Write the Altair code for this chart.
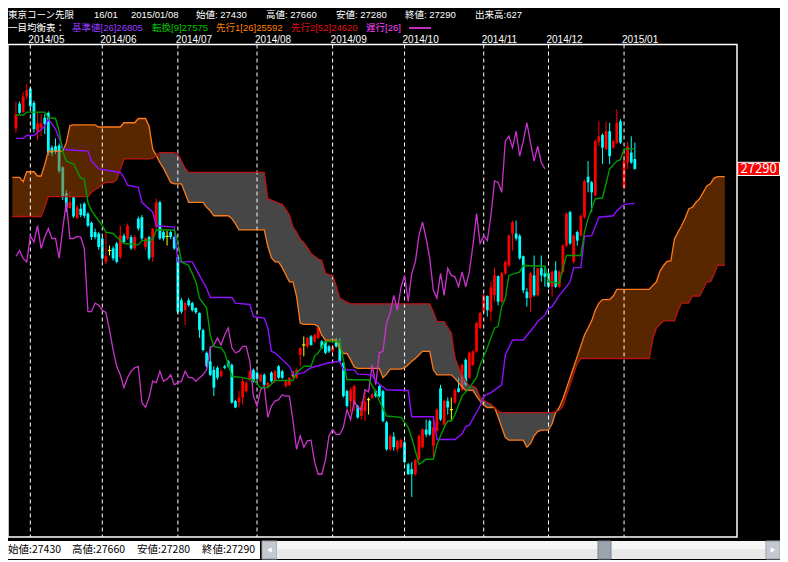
import altair as alt
import numpy as np
import pandas as pd

FONT = "Noto Sans CJK JP, Noto Sans, sans-serif"
FONT_HDR = "Liberation Sans, Noto Sans CJK JP, sans-serif"
RED, CYAN, YELLOW = "#ff0000", "#00ffff", "#ffff00"

# ---------------- daily candles (index 0 = 2014/04/24 ... 172 = 2015/01/08) -------------
OPEN = [27860, 28210, 28090, 28310, 28420, 28220, 27820, 27870, 28010, 28080,
        27590, 27610, 27620, 27310, 26950, 26740, 26890, 26600, 26730, 26800,
        26660, 26530, 26400, 26380, 26310, 25980, 26140, 26170, 26240, 26050,
        26350, 26310, 26330, 26170, 26590, 26610, 26190, 26330, 26050, 26470,
        26820, 26400, 26340, 26400, 26330, 26050, 25440, 25300, 25440, 25400,
        25330, 25260, 25020, 24700, 24580, 24460, 24490, 24370, 24510, 24580,
        24530, 24020, 24000, 24070, 24160, 24320, 24460, 24420, 24300, 24390,
        24230, 24420, 24300, 24510, 24440, 24230, 24250, 24390, 24350, 24670,
        24810, 24790, 24930, 24860, 24910, 24860, 24860, 24790, 24720, 24880,
        24840, 24560, 24160, 24020, 23970, 23950, 23810, 23880, 24040, 24070,
        24160, 24230, 24160, 23720, 23340, 23520, 23340, 23370, 23440, 23130,
        23060, 22990, 23200, 23370, 23620, 23740, 23390, 23600, 24200, 23690,
        24020, 23900, 24000, 24200, 24180, 24600, 24350, 24530, 24720, 25050,
        25280, 25500, 25280, 25510, 25780, 25420, 25820, 25930, 26380, 26380,
        26350, 26060, 25560, 25470, 25790, 25510, 25890, 25820, 25820, 25630,
        25860, 25630, 25840, 26210, 26680, 25980, 26400, 26350, 26610, 27180,
        27100, 26920, 27670, 27770, 27570, 27820, 27590, 27660, 27960, 27030,
        27380, 27520, 27430]
HIGH = [28240, 28240, 28370, 28490, 28440, 28250, 28080, 28060, 28060, 28100,
        27620, 27720, 27650, 27330, 26990, 26970, 26910, 26780, 26800, 26820,
        26680, 26550, 26450, 26400, 26330, 26400, 26210, 26200, 26260, 26490,
        26380, 26520, 26360, 26360, 26620, 26640, 26330, 26350, 26450, 26870,
        26840, 26420, 26420, 26420, 26350, 26070, 25470, 25420, 25470, 25420,
        25340, 25270, 25040, 24720, 24790, 24510, 24510, 24480, 24530, 24600,
        24550, 24040, 24160, 24350, 24300, 24460, 24480, 24440, 24410, 24410,
        24290, 24440, 24460, 24530, 24460, 24310, 24360, 24440, 24480, 24770,
        24930, 24920, 24950, 24970, 25070, 24880, 24880, 24810, 24810, 24910,
        24910, 24580, 24180, 24210, 24250, 23970, 24020, 24160, 24070, 24130,
        24180, 24250, 24180, 23740, 23550, 23580, 23480, 23490, 23460, 23150,
        23160, 23210, 23550, 23640, 23760, 23760, 23760, 23920, 24250, 24040,
        24070, 24070, 24200, 24350, 24550, 24620, 24720, 24740, 25140, 25280,
        25530, 25510, 25700, 25900, 25790, 25840, 26000, 26370, 26560, 26560,
        26370, 26070, 25610, 25840, 26070, 25900, 26070, 25930, 25840, 25860,
        25990, 25860, 26230, 26680, 26700, 26370, 26420, 26650, 27140, 27400,
        27120, 27700, 27960, 27790, 27960, 27940, 27700, 28130, 27990, 27520,
        27670, 27750, 27660]
LOW = [27800, 28060, 28080, 28270, 28150, 27800, 27700, 27750, 27780, 27480,
       27470, 27500, 27230, 26850, 26680, 26730, 26600, 26580, 26610, 26600,
       26470, 26290, 26300, 26150, 25990, 25950, 26070, 26000, 25960, 26020,
       26240, 26290, 26150, 26140, 26420, 26280, 26150, 26000, 25980, 26450,
       26290, 26280, 26210, 26300, 26150, 25250, 25250, 25090, 25350, 25280,
       25250, 24910, 24720, 24490, 24370, 24090, 24320, 24350, 24470, 24490,
       23980, 23920, 23930, 23970, 24140, 24300, 24280, 24310, 24280, 24230,
       24200, 24280, 24280, 24330, 24330, 24210, 24230, 24350, 24330, 24510,
       24650, 24770, 24800, 24840, 24890, 24750, 24680, 24700, 24700, 24770,
       24560, 24070, 23930, 23860, 23880, 23770, 23760, 23740, 23830, 24050,
       24070, 24070, 23720, 23320, 23320, 23320, 23300, 23350, 23140, 22980,
       22670, 22970, 23180, 23350, 23510, 23530, 23230, 23580, 23740, 23670,
       23830, 23740, 23980, 24140, 24160, 24230, 24330, 24510, 24700, 25030,
       25260, 25210, 25140, 25420, 25370, 25400, 25800, 25910, 26140, 26280,
       26010, 25540, 25350, 25280, 25490, 25490, 25700, 25630, 25610, 25490,
       25610, 25610, 25820, 26190, 26220, 25960, 26210, 26330, 26590, 26960,
       26680, 26900, 27610, 27360, 27550, 27360, 27570, 27640, 27640, 27000,
       27290, 27360, 27280]
CLOSE = [28060, 28080, 28310, 28400, 28170, 27850, 27930, 27930, 27920, 27520,
         27510, 27540, 27260, 26890, 26750, 26820, 26620, 26750, 26640, 26630,
         26490, 26330, 26330, 26190, 26030, 26060, 26140, 26030, 25980, 26350,
         26260, 26490, 26170, 26330, 26450, 26310, 26310, 26030, 26450, 26820,
         26310, 26310, 26340, 26330, 26170, 25280, 25280, 25400, 25370, 25300,
         25270, 25020, 24740, 24510, 24390, 24210, 24350, 24440, 24490, 24510,
         24000, 23930, 24070, 24300, 24280, 24440, 24300, 24330, 24390, 24250,
         24280, 24300, 24440, 24350, 24350, 24300, 24350, 24390, 24460, 24770,
         24810, 24910, 24810, 24950, 25050, 24770, 24700, 24720, 24790, 24790,
         24580, 24090, 23950, 24180, 24230, 23790, 23950, 24020, 24040, 24110,
         24090, 24090, 23740, 23340, 23530, 23370, 23460, 23470, 23160, 22990,
         22990, 23190, 23530, 23620, 23550, 23550, 23650, 23900, 23760, 24020,
         23930, 23900, 24180, 24150, 24530, 24250, 24700, 24720, 25120, 25260,
         25510, 25300, 25620, 25790, 25420, 25820, 25980, 26350, 26540, 26310,
         26030, 25580, 25470, 25820, 25510, 25890, 25790, 25770, 25630, 25840,
         25630, 25840, 26210, 26660, 26240, 26350, 26280, 26630, 27120, 27100,
         26960, 27680, 27750, 27590, 27820, 27470, 27680, 27940, 27660, 27400,
         27610, 27380, 27290]

MONTH_IDX = [4, 24, 45, 67, 88, 108, 130, 148, 169]
MONTH_LABELS = ["2014/05", "2014/06", "2014/07", "2014/08", "2014/09",
                "2014/10", "2014/11", "2014/12", "2015/01"]
Y_TICKS = [22500, 23000, 23500, 24000, 24500, 25000, 25500, 26000,
           26500, 27000, 27500, 28000, 28500, 29000]

# 転換線 (vertices)
TENKAN = [(0, 28050), (2, 28050), (3, 28090), (8, 28090), (9, 28010), (11, 28000),
          (12, 27820), (13, 27530), (14, 27400), (16, 27360), (18, 27160), (19, 27150),
          (20, 26820), (21, 26700), (22, 26630), (24, 26490), (25, 26400), (27, 26380),
          (28, 26330), (30, 26240), (34, 26220), (35, 26280), (38, 26290), (39, 26430),
          (44, 26430), (45, 26260), (46, 25980), (48, 25930), (50, 25700), (51, 25470),
          (53, 25330), (54, 24950), (55, 24790), (57, 24770), (58, 24700), (60, 24370),
          (63, 24350), (66, 24320), (68, 24210), (70, 24210), (71, 24260), (72, 24310),
          (77, 24310), (78, 24420), (80, 24510), (82, 24510), (83, 24650), (84, 24700),
          (86, 24860), (90, 24860), (91, 24600), (92, 24320), (98, 24320), (100, 24150),
          (101, 24020), (103, 23810), (107, 23790), (109, 23650), (110, 23500), (111, 23320),
          (112, 23130), (114, 23200), (116, 23200), (117, 23410), (119, 23650), (120, 23740),
          (121, 23740), (122, 23830), (124, 24090), (126, 24210), (128, 24350), (129, 24530),
          (131, 24770), (133, 25050), (134, 25070), (135, 25350), (136, 25470), (137, 25790),
          (140, 25840), (141, 25930), (147, 25920), (148, 25700), (151, 25680), (152, 25890),
          (153, 26070), (157, 26070), (158, 26400), (159, 26590), (161, 26870), (163, 26880),
          (165, 27290), (167, 27400), (168, 27420), (169, 27570), (172, 27575)]
# 基準線
KIJUN = [(0, 27720), (2, 27720), (3, 27760), (5, 27760), (8, 27890), (9, 27990), (11, 27850),
         (13, 27590), (14, 27560), (20, 27540), (21, 27400), (23, 27290), (29, 27240),
         (30, 27170), (31, 27060), (34, 27030), (35, 26820), (38, 26680), (39, 26490),
         (44, 26470), (45, 25980), (49, 25980), (51, 25790), (53, 25610), (54, 25480),
         (60, 25480), (61, 25400), (65, 25380), (66, 25210), (69, 25190), (70, 25050),
         (71, 24720), (72, 24700), (76, 24510), (77, 24390), (80, 24420), (82, 24490),
         (87, 24560), (90, 24580), (91, 24460), (94, 24460), (95, 24400), (99, 24390),
         (100, 24300), (103, 24180), (109, 24170), (110, 23800), (116, 23800), (117, 23480),
         (122, 23480), (124, 23560), (125, 23660), (126, 23680), (129, 23950), (130, 24090),
         (132, 24140), (135, 24250), (136, 24670), (138, 24880), (141, 24880), (144, 25070),
         (145, 25140), (147, 25230), (148, 25330), (149, 25350), (151, 25510), (153, 25630),
         (154, 25700), (155, 25900), (157, 25900), (158, 26340), (160, 26350), (162, 26610),
         (166, 26630), (167, 26700), (169, 26790), (172, 26805)]
# 先行スパン1 / 2 : (first bar index, level)
SPAN_A = [(-1, 27170), (2, 27110), (3, 27250), (6, 27190), (8, 27350), (9, 27540), (14, 27660),
          (15, 27900), (16, 27910), (23, 27880), (30, 27940), (34, 28000), (37, 27890),
          (38, 27570), (39, 27480), (40, 27380), (41, 27300), (42, 27200), (43, 27100),
          (44, 27080), (47, 26950), (48, 26820), (53, 26750), (54, 26700), (55, 26630),
          (60, 26590), (61, 26520), (62, 26430), (70, 26200), (71, 26040), (72, 25980),
          (74, 25900), (75, 25800), (76, 25700), (78, 25490), (79, 25120), (80, 25100),
          (84, 25070), (85, 24950), (86, 24880), (90, 24760), (91, 24690), (93, 24600),
          (94, 24500), (95, 24480), (102, 24350), (103, 24400), (104, 24470), (108, 24490),
          (109, 24530), (110, 24580), (111, 24620), (112, 24670), (113, 24720), (116, 24460),
          (117, 24390), (122, 24340), (123, 24280), (124, 24220), (125, 24170), (128, 24090),
          (129, 24020), (130, 23960), (131, 23930), (134, 23800), (135, 23650), (136, 23510),
          (137, 23470), (142, 23370), (143, 23420), (144, 23530), (145, 23590), (146, 23610),
          (149, 23700), (150, 23860), (151, 23930), (152, 24050), (153, 24200), (154, 24350),
          (155, 24500), (156, 24650), (157, 24800), (158, 24950), (159, 25050), (160, 25150),
          (161, 25300), (162, 25400), (163, 25450), (166, 25500), (167, 25592), (177, 25650),
          (178, 25700), (179, 25850), (180, 25930), (181, 25990), (183, 26300), (184, 26400),
          (185, 26490), (186, 26600), (187, 26730), (188, 26750), (189, 26820), (190, 26870),
          (191, 26960), (192, 27050), (193, 27080), (194, 27160), (195, 27180)]
SPAN_B = [(-1, 26620), (8, 26750), (9, 26900), (21, 26960), (22, 27000), (23, 27030),
          (24, 27080), (25, 27100), (28, 27140), (29, 27280), (30, 27430), (38, 27440),
          (39, 27480), (40, 27520), (45, 27500), (46, 27400), (47, 27300), (48, 27240),
          (70, 26870), (71, 26850), (72, 26830), (73, 26810), (74, 26790), (75, 26720),
          (76, 26640), (77, 26470), (78, 26400), (79, 26300), (80, 26250), (81, 26180),
          (82, 26100), (83, 26060), (84, 26020), (85, 26000), (86, 25820), (87, 25800),
          (88, 25790), (89, 25650), (90, 25470), (91, 25440), (92, 25410), (93, 25390),
          (116, 25280), (117, 25140), (120, 25060), (121, 24980), (122, 24630), (123, 24500),
          (124, 24400), (125, 24300), (126, 24230), (128, 24200), (129, 24070), (130, 24030),
          (131, 24000), (132, 23975), (133, 23930), (134, 23880), (135, 23857), (150, 23870),
          (151, 23890), (152, 23950), (153, 24100), (154, 24250), (155, 24400), (156, 24550),
          (157, 24620), (177, 24900), (178, 25050), (179, 25100), (180, 25150), (184, 25300),
          (185, 25400), (188, 25500), (191, 25600), (192, 25700), (194, 25800), (195, 25933)]
CLOUD_FIRST, CLOUD_LAST = -1, 197
CHIKOU_SHIFT = 25

# header texts: (text, x in px)
HEADER_1 = [("東京コーン先限", 0), ("16/01", 86), ("2015/01/08", 123), ("始値: 27430", 188),
            ("高値: 27660", 258), ("安値: 27280", 328), ("終値: 27290", 397), ("出来高:627", 467)]
HEADER_2 = [("一目均衡表：", "#ffffff", 0), ("基準値[26]26805", "#9a3cff", 64),
            ("転換[9]27575", "#00c800", 144), ("先行1[26]25592", "#ff8000", 208),
            ("先行2[52]24620", "#e01010", 283), ("遅行[26]", "#ff40ff", 358)]
STATUS = [("始値:27430", 0), ("高値:27660", 64), ("安値:27280", 129), ("終値:27290", 194)]

# ---------------- tables ----------------
PW, PH = 729, 492.5
XS = alt.Scale(domain=[-0.82, 199.0], nice=False, zero=False)
YS = alt.Scale(domain=[22106, 29042], nice=False, zero=False)

df = pd.DataFrame({"i": range(len(CLOSE)), "o": OPEN, "h": HIGH, "l": LOW, "c": CLOSE})
df["kind"] = np.where(df.c > df.o, "up", np.where(df.c < df.o, "down", "doji"))
df["xl"] = df.i - 0.45
df["xr"] = df.i + 0.45
KIND = alt.Scale(domain=["up", "down", "doji"], range=[RED, CYAN, YELLOW])


def expand(steps, lo, hi):
    vals, k = [], 0
    for i in range(lo, hi + 1):
        while k + 1 < len(steps) and steps[k + 1][0] <= i:
            k += 1
        vals.append(steps[k][1])
    return vals


cl = pd.DataFrame({"i": range(CLOUD_FIRST, CLOUD_LAST + 1),
                   "A": expand(SPAN_A, CLOUD_FIRST, CLOUD_LAST),
                   "B": expand(SPAN_B, CLOUD_FIRST, CLOUD_LAST)})
cl["ck"] = np.where(cl.A >= cl.B, "bull", "bear")
cl["seg"] = (cl.ck != cl.ck.shift()).cumsum()
parts = []
for s, g in cl.groupby("seg"):
    parts.append(g)
    nxt = cl[cl.seg == s + 1].head(1).copy()
    if len(nxt):
        nxt["seg"] = s
        nxt["ck"] = g.ck.iloc[0]
        parts.append(nxt)
cloud = pd.concat(parts, ignore_index=True)

tk = pd.DataFrame(TENKAN, columns=["i", "v"])
kj = pd.DataFrame(KIJUN, columns=["i", "v"])
ch = pd.DataFrame({"i": range(len(CLOSE) - CHIKOU_SHIFT), "v": CLOSE[CHIKOU_SHIFT:]})
months = pd.DataFrame({"i": MONTH_IDX, "lab": MONTH_LABELS})

X = alt.X("i:Q", scale=XS, axis=None)
YAX = alt.Axis(orient="right", values=Y_TICKS, grid=True, gridColor="#e4e4e4", gridWidth=1,
               domain=False, ticks=False, labelColor="white", labelFont=FONT,
               labelFontSize=11, labelPadding=10, title=None, labelFlush=False,
               labelOverlap=False)

wicks = alt.Chart(df).mark_rule(strokeWidth=1).encode(
    x=X, y=alt.Y("l:Q", scale=YS, axis=YAX), y2="h:Q",
    color=alt.Color("kind:N", scale=KIND, legend=None))
bodies = alt.Chart(df[df.kind != "doji"]).mark_bar(size=2.8).encode(
    x=X, y=alt.Y("o:Q", scale=YS, axis=None), y2="c:Q",
    color=alt.Color("kind:N", scale=KIND, legend=None))
doji = alt.Chart(df[df.kind == "doji"]).mark_rule(strokeWidth=1.2, color=YELLOW).encode(
    x=alt.X("xl:Q", scale=XS, axis=None), x2="xr:Q", y=alt.Y("c:Q", scale=YS, axis=None))

cloud_bull = alt.Chart(cloud[cloud.ck == "bull"]).mark_area(
    color="#b04e00", opacity=0.5, clip=True).encode(
    x=X, y=alt.Y("A:Q", scale=YS, axis=None), y2="B:Q", detail="seg:N")
cloud_bear = alt.Chart(cloud[cloud.ck == "bear"]).mark_area(
    color="#808080", opacity=0.55, clip=True).encode(
    x=X, y=alt.Y("A:Q", scale=YS, axis=None), y2="B:Q", detail="seg:N")
span_a = alt.Chart(cl).mark_line(color="#ff7a1a", strokeWidth=1.3, clip=True).encode(
    x=X, y=alt.Y("A:Q", scale=YS, axis=None))
span_b = alt.Chart(cl).mark_line(color="#b81414", strokeWidth=1.3, clip=True).encode(
    x=X, y=alt.Y("B:Q", scale=YS, axis=None))
chikou = alt.Chart(ch).mark_line(color="#cc33cc", strokeWidth=1.3).encode(
    x=X, y=alt.Y("v:Q", scale=YS, axis=None))
kijun = alt.Chart(kj).mark_line(color="#9010ff", strokeWidth=1.4).encode(
    x=X, y=alt.Y("v:Q", scale=YS, axis=None))
tenkan = alt.Chart(tk).mark_line(color="#009a00", strokeWidth=1.4).encode(
    x=X, y=alt.Y("v:Q", scale=YS, axis=None))

mlines = alt.Chart(months).mark_rule(color="white", strokeDash=[4, 3], strokeWidth=1).encode(x=X)
mlabels = alt.Chart(months).mark_text(align="left", baseline="middle", dx=-2, color="white",
                                      font="Liberation Sans, sans-serif", fontSize=10).encode(
    x=X, y=alt.value(-4.5), text="lab:N")

one = pd.DataFrame({"k": [0]})
hdr = []
for txt, px in HEADER_1:
    hdr.append(alt.Chart(one).mark_text(align="left", baseline="middle", color="white",
                                        font=FONT_HDR, fontSize=9.5).encode(
        x=alt.value(px), y=alt.value(-29.5), text=alt.value(txt)))
for txt, col, px in HEADER_2:
    hdr.append(alt.Chart(one).mark_text(align="left", baseline="middle", color=col,
                                        font=FONT_HDR, fontSize=9.5).encode(
        x=alt.value(px), y=alt.value(-16.5), text=alt.value(txt)))
hdr.append(alt.Chart(one).mark_rule(color="#ff40ff", strokeWidth=1.5).encode(
    x=alt.value(401), x2=alt.value(423), y=alt.value(-16.5)))

last = pd.DataFrame({"v": [CLOSE[-1]]})
tag_box = alt.Chart(last).mark_rect(fill=RED, stroke="white", strokeWidth=1).encode(
    x=alt.value(PW + 0.7), x2=alt.value(PW + 42.5),
    y=alt.Y(datum=CLOSE[-1] + 93, scale=YS, axis=None), y2=alt.Y2(datum=CLOSE[-1] - 93))
tag_txt = alt.Chart(last).mark_text(color="white", font=FONT, fontSize=13, align="center",
                                    baseline="middle").encode(
    x=alt.value(PW + 21.6), y=alt.Y("v:Q", scale=YS, axis=None),
    text=alt.Text("v:Q", format="d"))


def box(x1, x2, y1, y2, fill, stroke=None):
    kw = {"fill": fill}
    if stroke:
        kw.update(stroke=stroke, strokeWidth=1)
    return alt.Chart(one).mark_rect(**kw).encode(
        x=alt.value(x1), x2=alt.value(x2), y=alt.value(y1), y2=alt.value(y2))


SY0, SY1 = PH + 4, PH + 22
SYM = (SY0 + SY1) / 2
status = [
    box(0, 252, SY0, SY1, "#ffffff"),
    box(254, 269, SY0, SY1, "#c4c8d0", "#9aa0aa"),
    box(269, 758, SY0, SY1, "#e9e9e9"),
    box(269, 758, SY0, SY0 + 8, "#f6f6f6"),
    box(590, 603, SY0, SY1, "#9ca4b0", "#7c8490"),
    box(758, 772, SY0, SY1, "#c4c8d0", "#9aa0aa"),
    alt.Chart(one).mark_point(shape="triangle-left", filled=True, color="white", size=28,
                              opacity=1).encode(x=alt.value(261.5), y=alt.value(SYM)),
    alt.Chart(one).mark_point(shape="triangle-right", filled=True, color="white", size=28,
                              opacity=1).encode(x=alt.value(765), y=alt.value(SYM)),
]
for txt, px in STATUS:
    status.append(alt.Chart(one).mark_text(align="left", baseline="middle", color="black",
                                           font=FONT, fontSize=10.5).encode(
        x=alt.value(px), y=alt.value(SYM), text=alt.value(txt)))

chart = alt.layer(
    wicks, bodies, doji, cloud_bull, cloud_bear, mlines, span_a, span_b, chikou, kijun, tenkan,
    mlabels, *hdr, tag_box, tag_txt, *status
).properties(
    width=PW, height=PH,
    padding={"left": 0, "top": 36.5, "right": 43, "bottom": 23},
    autosize=alt.AutoSizeParams(type="none"),
    background="#000000",
).configure_view(stroke="white", strokeWidth=1.5)

chart.save("out.html", embed_options={"renderer": "svg", "actions": False})
